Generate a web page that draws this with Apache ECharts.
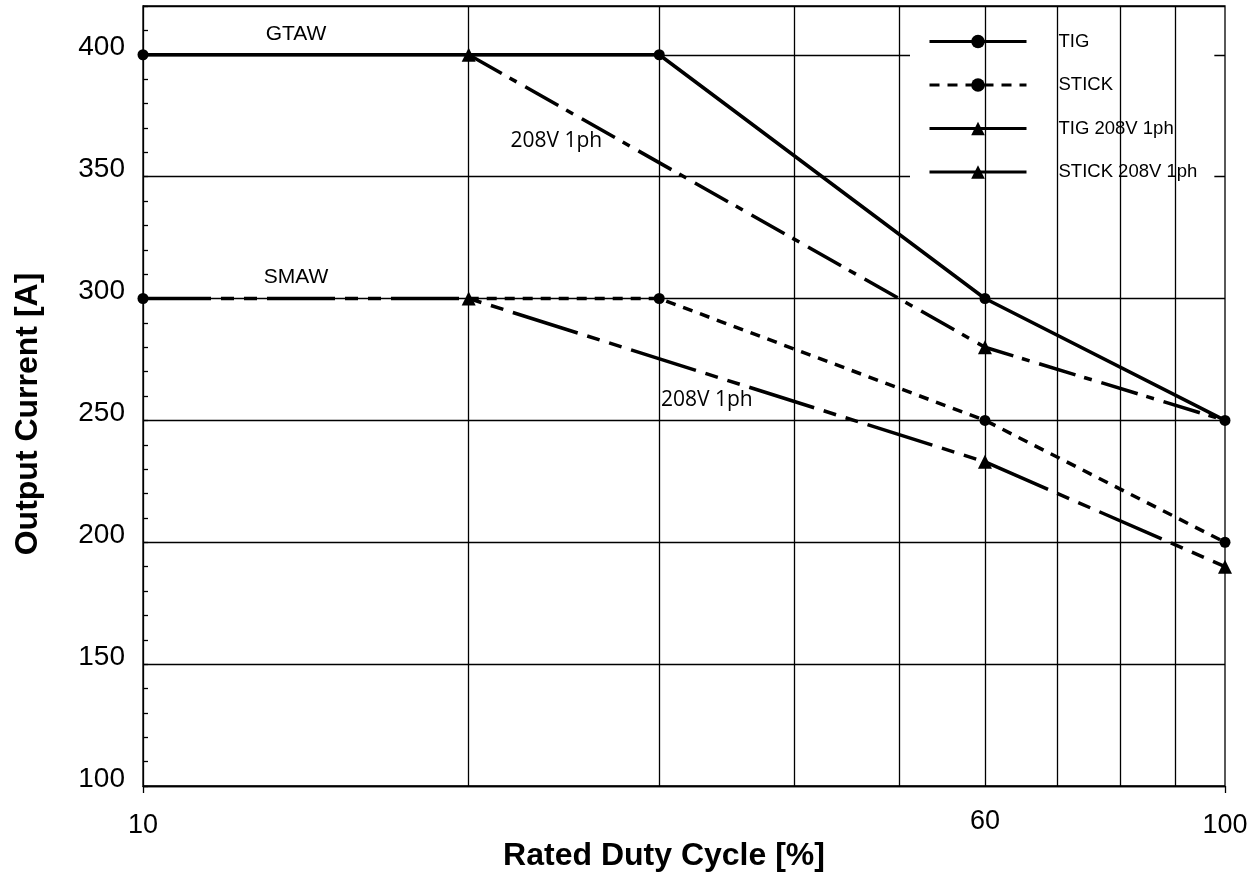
<!DOCTYPE html>
<html>
<head>
<meta charset="utf-8">
<title>Rated Duty Cycle</title>
<script src="https://cdn.jsdelivr.net/npm/echarts@6/dist/echarts.min.js"></script>
<style>
  html, body { margin: 0; padding: 0; background: #fff; }
  #chart { width: 1255px; height: 872px; }
</style>
</head>
<body>
<div id="chart"></div>
<script>
// Duty cycle (%) vs. output current (A)
const tigDuty = [10, 30, 60, 100];
const tigAmps = [400, 400, 300, 250];

const stickDuty = [10, 20, 30, 60, 100];
const stickAmps = [300, 300, 300, 250, 200];

const tig208Duty = [20, 60, 100];
const tig208Amps = [400, 280, 250];

const stick208Duty = [10, 20, 60, 100];
const stick208Amps = [300, 300, 233, 190];

// Y tick labels and the vertical grid positions on the log duty axis
const ampTicks = [100, 150, 200, 250, 300, 350, 400];
const dutyGrid = [20, 30, 40, 50, 60, 70, 80, 90];
const dutyLabelOnGrid = 60;

// Text notes on the plot (anchored in data units)
const noteText = ['GTAW', 'SMAW', '208V 1ph', '208V 1ph'];
const noteDuty = [13.85, 13.85, 24.1, 33.2];
const noteAmps = [408.3, 308.6, 364.6, 258.4];

const FONT = 'Liberation Sans, Arial, Helvetica, sans-serif';
const NOTE_FONTS = [FONT, FONT, 'Open Sans, sans-serif', 'Open Sans, sans-serif'];
const NOTE_SIZES = [21, 21, 21, 21];

// Build [x, y] points; points listed in `noMarker` are drawn without a symbol,
// `breakAfterFirst` leaves the first point unconnected to the rest.
function buildPoints(xs, ys, noMarker, breakAfterFirst) {
  const pts = [];
  xs.forEach(function (x, i) {
    const item = { value: [x, ys[i]] };
    if (noMarker.indexOf(x) >= 0) item.symbol = 'none';
    pts.push(item);
    if (breakAfterFirst && i === 0) pts.push({ value: ['-', '-'] });
  });
  return pts;
}

const chart = echarts.init(document.getElementById('chart'), null, { renderer: 'canvas' });

const lineBase = {
  type: 'line',
  z: 3,
  silent: true,
  connectNulls: false,
  itemStyle: { color: '#000' },
  emphasis: { disabled: true }
};

const option = {
  animation: false,
  backgroundColor: '#fff',
  grid: {
    left: 143, right: 30, top: 6, bottom: 86,
    outerBoundsMode: 'none',
    containLabel: false,
    show: true, borderColor: '#000', borderWidth: 1.3, backgroundColor: 'transparent'
  },
  legend: {
    orient: 'vertical',
    left: 910, top: 17,
    padding: [15, 17, 7, 18],
    itemWidth: 97, itemHeight: 17, itemGap: 24.5,
    backgroundColor: '#fff',
    selectedMode: false,
    lineStyle: { width: 3 },
    textStyle: { fontFamily: FONT, fontSize: 18.5, color: '#000', padding: [0, 0, 0, 27] },
    data: [
      'TIG',
      'STICK',
      { name: 'TIG 208V 1ph', lineStyle: { type: 'solid', width: 3 } },
      { name: 'STICK 208V 1ph', lineStyle: { type: 'solid', width: 3 } }
    ]
  },
  xAxis: {
    type: 'log', logBase: 10, min: 10, max: 100,
    name: 'Rated Duty Cycle [%]',
    nameLocation: 'middle', nameGap: 54, nameMoveOverlap: false,
    nameTextStyle: { fontFamily: FONT, fontWeight: 'bold', fontSize: 32, color: '#000', padding: [0, 40, 0, 0] },
    axisLine: { lineStyle: { color: '#000', width: 1.3 } },
    axisTick: { show: true, length: 7, lineStyle: { color: '#000', width: 1.3 } },
    axisLabel: { fontFamily: FONT, fontSize: 27, color: '#000', margin: 26 },
    splitLine: { show: false },
    minorTick: { show: false }
  },
  yAxis: [
    {
      type: 'value', position: 'left', min: 100, max: 420, interval: 50,
      name: 'Output Current [A]',
      nameLocation: 'middle', nameGap: 99, nameRotate: 90, nameMoveOverlap: false,
      nameTextStyle: { fontFamily: FONT, fontWeight: 'bold', fontSize: 32, color: '#000', padding: [0, 36, 0, 0] },
      axisLine: { show: true, lineStyle: { color: '#000', width: 1.3 } },
      axisTick: { show: false },
      axisLabel: {
        fontFamily: FONT, fontSize: 28, color: '#000', margin: 18,
        verticalAlign: 'bottom', lineHeight: 14,
        formatter: function (v) { return ampTicks.indexOf(v) >= 0 ? String(v) : ''; }
      },
      splitLine: { show: true, lineStyle: { color: '#000', width: 1.3 } }
    },
    {
      // minor ticks every 10 A, pointing into the plot
      type: 'value', position: 'left', offset: 0, min: 100, max: 420, interval: 10,
      axisLine: { show: false },
      axisLabel: { show: false },
      splitLine: { show: false },
      axisTick: { show: true, inside: true, length: 5, lineStyle: { color: '#000', width: 1.3 } }
    }
  ],
  series: [
    {
      // vertical duty-cycle grid and on-plot notes
      type: 'line', z: 1, silent: true, data: [],
      markLine: {
        silent: true, animation: false,
        symbol: ['none', 'none'],
        lineStyle: { color: '#000', width: 1.3, type: 'solid' },
        label: { show: false },
        emphasis: { disabled: true },
        data: dutyGrid.map(function (d) {
          const item = { xAxis: d };
          if (d === dutyLabelOnGrid) {
            item.label = {
              show: true, position: 'start', distance: 22, formatter: String(d),
              fontFamily: FONT, fontSize: 27, color: '#000'
            };
          }
          return item;
        })
      },
      markPoint: {
        silent: true, animation: false,
        symbol: 'circle', symbolSize: 1,
        itemStyle: { color: 'rgba(0,0,0,0)' },
        emphasis: { disabled: true },
        data: noteText.map(function (t, i) {
          return {
            coord: [noteDuty[i], noteAmps[i]],
            label: {
              show: true, position: 'inside', formatter: t,
              fontFamily: NOTE_FONTS[i], fontSize: NOTE_SIZES[i], color: '#000'
            }
          };
        })
      }
    },
    Object.assign({}, lineBase, {
      name: 'TIG 208V 1ph',
      symbol: 'triangle', symbolSize: 14,
      lineStyle: { color: '#000', width: 3.5, type: [38, 9, 8, 10] },
      data: buildPoints(tig208Duty, tig208Amps, [100], false)
    }),
    Object.assign({}, lineBase, {
      name: 'STICK 208V 1ph',
      symbol: 'triangle', symbolSize: 14,
      lineStyle: { color: '#000', width: 3.5, type: [68, 10, 13, 10, 13, 10] },
      data: buildPoints(stick208Duty, stick208Amps, [10], false)
    }),
    Object.assign({}, lineBase, {
      name: 'STICK',
      symbol: 'circle', symbolSize: 11,
      lineStyle: { color: '#000', width: 3.5, type: [10, 8] },
      data: buildPoints(stickDuty, stickAmps, [20], true)
    }),
    Object.assign({}, lineBase, {
      name: 'TIG',
      symbol: 'circle', symbolSize: 11,
      lineStyle: { color: '#000', width: 3.5, type: 'solid' },
      data: buildPoints(tigDuty, tigAmps, [], false)
    })
  ]
};

chart.setOption(option);
</script>
</body>
</html>
